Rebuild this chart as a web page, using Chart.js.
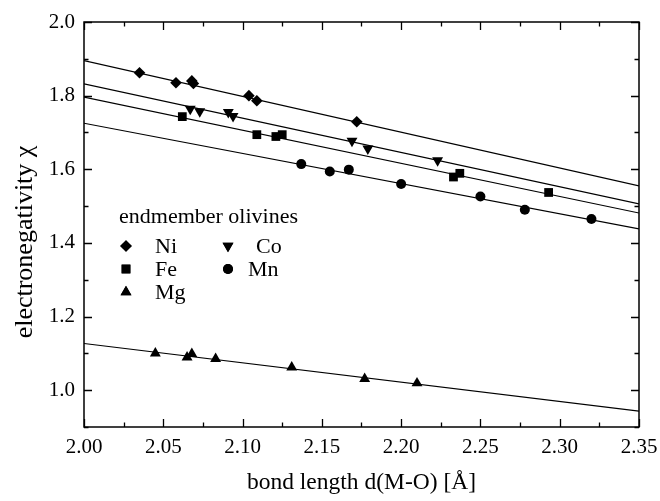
<!DOCTYPE html>
<html>
<head>
<meta charset="utf-8">
<script src="https://cdn.jsdelivr.net/npm/chart.js@4/dist/chart.umd.min.js"></script>
<style>
  html, body { margin: 0; padding: 0; background: #fff; }
  #wrap { width: 660px; height: 501px; }
</style>
</head>
<body>
<div id="wrap"><canvas id="chart"></canvas></div>
<script>
// measured bond lengths d(M-O) [Å] and electronegativities
var niX = [2.035, 2.058, 2.068, 2.069, 2.104, 2.109, 2.172];
var niY = [1.862, 1.835, 1.840, 1.833, 1.800, 1.786, 1.729];
var coX = [2.067, 2.073, 2.091, 2.094, 2.169, 2.179, 2.223];
var coY = [1.764, 1.757, 1.755, 1.744, 1.677, 1.656, 1.624];
var feX = [2.062, 2.109, 2.121, 2.125, 2.233, 2.237, 2.293];
var feY = [1.743, 1.694, 1.689, 1.694, 1.579, 1.589, 1.537];
var mnX = [2.137, 2.155, 2.167, 2.200, 2.250, 2.278, 2.320];
var mnY = [1.614, 1.594, 1.599, 1.560, 1.526, 1.490, 1.465];
var mgX = [2.045, 2.065, 2.068, 2.083, 2.131, 2.177, 2.210];
var mgY = [1.100, 1.089, 1.099, 1.085, 1.062, 1.031, 1.019];

// linear fits, end points at 2.00 and 2.35
var fitX = [2.00, 2.35];
var niFit = [1.895, 1.555];
var coFit = [1.832, 1.506];
var feFit = [1.796, 1.481];
var mnFit = [1.725, 1.438];
var mgFit = [1.127, 0.943];

var xTicks = [2.00, 2.05, 2.10, 2.15, 2.20, 2.25, 2.30, 2.35];
var yTicks = [1.0, 1.2, 1.4, 1.6, 1.8, 2.0];

var serif = '"Liberation Serif", "DejaVu Serif", serif';

function pts(xs, ys) {
    return xs.map(function (x, i) { return { x: x, y: ys[i] }; });
}

function markers(label, xs, ys, style, r, rot) {
    return {
        type: 'scatter', label: label, data: pts(xs, ys),
        pointStyle: style, pointRadius: r, pointHoverRadius: r,
        rotation: rot || 0,
        backgroundColor: '#000', borderColor: '#000', borderWidth: 0
    };
}

function fit(ys) {
    return {
        type: 'line', label: '', data: pts(fitX, ys),
        borderColor: '#000', borderWidth: 1.1, pointRadius: 0,
        fill: false, tension: 0
    };
}

var series = [
    markers('Ni', niX, niY, 'rectRot', 5.8),
    markers('Co', coX, coY, 'triangle', 6.3, 180),
    markers('Fe', feX, feY, 'rect', 6.2),
    markers('Mn', mnX, mnY, 'circle', 5),
    markers('Mg', mgX, mgY, 'triangle', 6.3)
];

// frame with inward ticks on all four sides, y title and the in-plot key
var framePlugin = {
    id: 'frame',
    afterDraw: function (chart) {
        var ctx = chart.ctx, a = chart.chartArea;
        var xs = chart.scales.x, ys = chart.scales.y;
        ctx.save();
        ctx.strokeStyle = '#000';
        ctx.lineWidth = 1.5;
        ctx.strokeRect(a.left, a.top, a.right - a.left, a.bottom - a.top);
        ctx.lineWidth = 1.3;
        ctx.beginPath();
        var v, p, len;
        for (v = 2.0; v <= 2.3501; v += 0.025) {
            p = Math.round(xs.getPixelForValue(v)) + 0.5;
            len = (Math.round(v * 1000) % 50 === 0) ? 8 : 4.5;
            ctx.moveTo(p, a.bottom); ctx.lineTo(p, a.bottom - len);
            ctx.moveTo(p, a.top); ctx.lineTo(p, a.top + len);
        }
        for (v = 0.9; v <= 2.0001; v += 0.1) {
            p = Math.round(ys.getPixelForValue(v)) + 0.5;
            len = (Math.round(v * 10) % 2 === 0) ? 8 : 4.5;
            ctx.moveTo(a.left, p); ctx.lineTo(a.left + len, p);
            ctx.moveTo(a.right, p); ctx.lineTo(a.right - len, p);
        }
        ctx.stroke();

        ctx.fillStyle = '#000';
        ctx.textBaseline = 'middle';

        // y axis title
        ctx.save();
        ctx.translate(25, 242);
        ctx.rotate(-Math.PI / 2);
        ctx.textAlign = 'center';
        ctx.font = '26px ' + serif;
        ctx.fillText('electronegativity χ', 0, 0);
        ctx.restore();

        // key
        ctx.font = '22px ' + serif;
        ctx.textAlign = 'left';
        ctx.fillText('endmember olivines', 119, 217);
        var key = [
            [0, 126, 246, 155],
            [1, 228, 246, 256],
            [2, 126, 269, 155],
            [3, 228, 269, 248],
            [4, 126, 292, 155]
        ];
        key.forEach(function (k) {
            var ds = chart.data.datasets[k[0]];
            Chart.helpers.drawPoint(ctx, {
                pointStyle: ds.pointStyle, radius: ds.pointRadius,
                rotation: ds.rotation, borderWidth: 0
            }, k[1], k[2]);
            ctx.fill();
            ctx.fillText(ds.label, k[3], k[2] + 1);
        });
        ctx.restore();
    }
};

new Chart(document.getElementById('chart'), {
    type: 'scatter',
    data: {
        datasets: series.concat([fit(niFit), fit(coFit), fit(feFit), fit(mnFit), fit(mgFit)])
    },
    options: {
        responsive: true,
        maintainAspectRatio: false,
        animation: false,
        layout: { padding: { top: 22, right: 21, bottom: 0, left: 0 } },
        plugins: { legend: { display: false }, tooltip: { enabled: false } },
        scales: {
            x: {
                type: 'linear', min: 2.0, max: 2.35,
                afterBuildTicks: function (s) { s.ticks = xTicks.map(function (v) { return { value: v }; }); },
                afterFit: function (s) { s.height = 74; s.paddingLeft = 0; s.paddingRight = 0; },
                grid: { display: false, drawTicks: false },
                border: { display: false },
                ticks: {
                    color: '#000', padding: 8, maxRotation: 0,
                    font: { family: serif, size: 21 },
                    callback: function (v) { return Number(v).toFixed(2); }
                },
                title: {
                    display: true, text: 'bond length d(M-O) [Å]', color: '#000',
                    font: { family: serif, size: 23.5 }, padding: { top: 0, bottom: 4 }
                }
            },
            y: {
                type: 'linear', min: 0.9, max: 2.0,
                afterBuildTicks: function (s) { s.ticks = yTicks.map(function (v) { return { value: v }; }); },
                afterFit: function (s) { s.width = 84; },
                grid: { display: false, drawTicks: false },
                border: { display: false },
                ticks: {
                    color: '#000', padding: 9,
                    font: { family: serif, size: 21 },
                    callback: function (v) { return Number(v).toFixed(1); }
                }
            }
        }
    },
    plugins: [framePlugin]
});
</script>
</body>
</html>
